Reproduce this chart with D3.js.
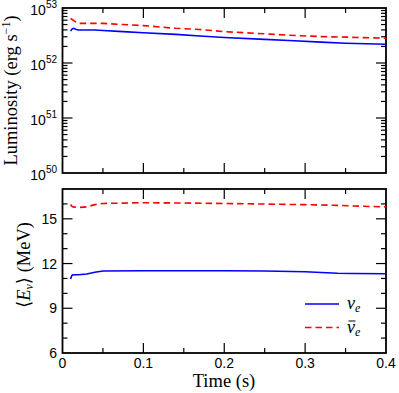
<!DOCTYPE html>
<html>
<head>
<meta charset="utf-8">
<script src="https://cdn.jsdelivr.net/npm/d3@7"></script>
<style>
  body { margin: 0; background: #fff; }
  svg { display: block; }
  .tick-label { font-family: "Liberation Sans", Arial, sans-serif; font-size: 14px; fill: #000; }
  .axis-title { font-family: "Liberation Serif", "Times New Roman", "DejaVu Serif", serif; font-size: 18.5px; fill: #000; }
  .legend-label { font-family: "Liberation Serif", "Times New Roman", serif; font-style: italic; font-size: 18px; fill: #000; }
</style>
</head>
<body>
<svg id="chart" width="399" height="393"></svg>
<script>
// luminosity panel (units of 1e52 erg/s)
const timeLum = [0.010, 0.012, 0.014, 0.017, 0.020, 0.030, 0.040, 0.050, 0.075, 0.100, 0.140, 0.170, 0.200, 0.250, 0.280, 0.320, 0.350, 0.400];
const lumNuE = [3.80, 4.17, 4.27, 4.07, 3.98, 3.98, 3.98, 3.89, 3.72, 3.55, 3.31, 3.09, 2.90, 2.69, 2.57, 2.40, 2.29, 2.19];
const lumAntiNuE = [6.46, 6.17, 5.90, 5.50, 5.25, 5.25, 5.25, 5.25, 5.01, 4.79, 4.27, 4.07, 3.72, 3.39, 3.20, 3.02, 2.95, 2.82];

// mean energy panel (MeV)
const timeEnergy = [0.010, 0.0115, 0.013, 0.020, 0.030, 0.040, 0.050, 0.100, 0.150, 0.200, 0.250, 0.300, 0.320, 0.340, 0.360, 0.400];
const energyNuE = [10.96, 11.20, 11.25, 11.25, 11.30, 11.42, 11.50, 11.52, 11.52, 11.52, 11.50, 11.45, 11.40, 11.35, 11.33, 11.32];
const energyAntiNuE = [15.96, 15.85, 15.80, 15.76, 15.80, 15.95, 16.03, 16.08, 16.06, 16.03, 15.99, 15.95, 15.93, 15.90, 15.86, 15.80];

const xTicks = [0, 0.1, 0.2, 0.3, 0.4];
const xTickLabels = ["0", "0.1", "0.2", "0.3", "0.4"];
const lumExponents = [50, 51, 52, 53];
const energyTicks = [6, 9, 12, 15];

const svg = d3.select("#chart");
const LEFT = 62.5, RIGHT = 386;
const TOP_PANEL = { top: 8, bottom: 173 };
const BOT_PANEL = { top: 189, bottom: 353 };
const MAJOR = 10, MINOR = 5;

const x = d3.scaleLinear().domain([0, 0.4]).range([LEFT, RIGHT]);
const yLum = d3.scaleLog().domain([1e50, 1e53]).range([TOP_PANEL.bottom, TOP_PANEL.top]);
const yE = d3.scaleLinear().domain([6, 17]).range([BOT_PANEL.bottom, BOT_PANEL.top]);

const BLUE = "#0000ff", RED = "#ff0000", DASH = "6.5,4";

function tickLines(g, positions, len, orient, panel) {
  // ticks point inward, on both opposite sides
  positions.forEach(p => {
    if (orient === "x") {
      g.append("line").attr("x1", p).attr("x2", p).attr("y1", panel.bottom).attr("y2", panel.bottom - len);
      g.append("line").attr("x1", p).attr("x2", p).attr("y1", panel.top).attr("y2", panel.top + len);
    } else {
      g.append("line").attr("y1", p).attr("y2", p).attr("x1", LEFT).attr("x2", LEFT + len);
      g.append("line").attr("y1", p).attr("y2", p).attr("x1", RIGHT).attr("x2", RIGHT - len);
    }
  });
}

function drawPanel(panel, yScale, majorY, minorY) {
  const g = svg.append("g").attr("stroke", "#000").attr("stroke-width", 1.2);
  const xMajor = xTicks.slice(1, -1).map(x);
  const xMinor = d3.range(0.05, 0.4, 0.1).map(x);
  tickLines(g, xMajor, MAJOR, "x", panel);
  tickLines(g, xMinor, MINOR, "x", panel);
  tickLines(g, majorY.map(yScale), MAJOR, "y", panel);
  tickLines(g, minorY.map(yScale), MINOR, "y", panel);
  svg.append("rect")
    .attr("x", LEFT).attr("y", panel.top)
    .attr("width", RIGHT - LEFT).attr("height", panel.bottom - panel.top)
    .attr("fill", "none").attr("stroke", "#000").attr("stroke-width", 1.8);
}

// top panel ticks
const lumMinor = [];
lumExponents.slice(0, -1).forEach(e => { for (let k = 2; k <= 9; k++) lumMinor.push(k * Math.pow(10, e)); });
drawPanel(TOP_PANEL, yLum, lumExponents.slice(1, -1).map(e => Math.pow(10, e)), lumMinor);

// bottom panel ticks
const eMinor = d3.range(7, 17).filter(v => !energyTicks.includes(v));
drawPanel(BOT_PANEL, yE, energyTicks.slice(1), eMinor);

// lines
const lumLine = d3.line().x(d => x(d[0])).y(d => yLum(d[1] * 1e52));
const eLine = d3.line().x(d => x(d[0])).y(d => yE(d[1]));

svg.append("path").datum(d3.zip(timeLum, lumNuE)).attr("d", lumLine)
  .attr("fill", "none").attr("stroke", BLUE).attr("stroke-width", 1.6);
svg.append("path").datum(d3.zip(timeLum, lumAntiNuE)).attr("d", lumLine)
  .attr("fill", "none").attr("stroke", RED).attr("stroke-width", 1.6).attr("stroke-dasharray", DASH);
svg.append("path").datum(d3.zip(timeEnergy, energyNuE)).attr("d", eLine)
  .attr("fill", "none").attr("stroke", BLUE).attr("stroke-width", 1.6);
svg.append("path").datum(d3.zip(timeEnergy, energyAntiNuE)).attr("d", eLine)
  .attr("fill", "none").attr("stroke", RED).attr("stroke-width", 1.6).attr("stroke-dasharray", DASH);

// tick labels
lumExponents.forEach(e => {
  const t = svg.append("text").attr("class", "tick-label")
    .attr("x", 57).attr("y", yLum(Math.pow(10, e)) + 7).attr("text-anchor", "end");
  t.append("tspan").text("10");
  t.append("tspan").attr("dy", -7).attr("font-size", 10).text(e);
});
energyTicks.forEach(v => {
  svg.append("text").attr("class", "tick-label")
    .attr("x", 57).attr("y", yE(v) + 5).attr("text-anchor", "end").text(v);
});
xTicks.forEach((v, i) => {
  svg.append("text").attr("class", "tick-label")
    .attr("x", x(v)).attr("y", 368).attr("text-anchor", "middle").text(xTickLabels[i]);
});

// axis titles
const lumTitle = svg.append("text").attr("class", "axis-title")
  .attr("transform", `translate(17,${(TOP_PANEL.top + TOP_PANEL.bottom) / 2}) rotate(-90)`)
  .attr("text-anchor", "middle");
lumTitle.append("tspan").text("Luminosity (erg s");
lumTitle.append("tspan").attr("dy", -7).attr("font-size", 12).text("\u22121");
lumTitle.append("tspan").attr("dy", 7).text(")");

const eTitle = svg.append("text").attr("class", "axis-title")
  .attr("transform", `translate(30,265) rotate(-90)`)
  .attr("text-anchor", "middle");
eTitle.append("tspan").text("\u27e8");
eTitle.append("tspan").attr("font-style", "italic").text("E");
eTitle.append("tspan").attr("font-style", "italic").attr("font-size", 12).attr("dy", 3).text("\u03bd");
eTitle.append("tspan").attr("dy", -3).text("\u27e9 (MeV)");

svg.append("text").attr("class", "axis-title")
  .attr("x", 224).attr("y", 387).attr("text-anchor", "middle").text("Time (s)");

// legend
const legendItems = [
  { label: "\u03bd", bar: false, color: BLUE, dash: null, y: 304 },
  { label: "\u03bd", bar: true, color: RED, dash: DASH, y: 327.5 }
];
legendItems.forEach(it => {
  svg.append("line").attr("x1", 305).attr("x2", 339).attr("y1", it.y).attr("y2", it.y)
    .attr("stroke", it.color).attr("stroke-width", 1.6).attr("stroke-dasharray", it.dash);
  const t = svg.append("text").attr("class", "legend-label").attr("x", 347).attr("y", it.y + 5);
  t.append("tspan").text(it.label);
  t.append("tspan").attr("font-size", 12).attr("dy", 3).text("e");
  if (it.bar) {
    const w = t.node().getSubStringLength(0, 1);
    svg.append("line")
      .attr("x1", 348.5).attr("x2", 347 + w + 0.5)
      .attr("y1", it.y - 6.5).attr("y2", it.y - 6.5)
      .attr("stroke", "#000").attr("stroke-width", 1);
  }
});
</script>
</body>
</html>
